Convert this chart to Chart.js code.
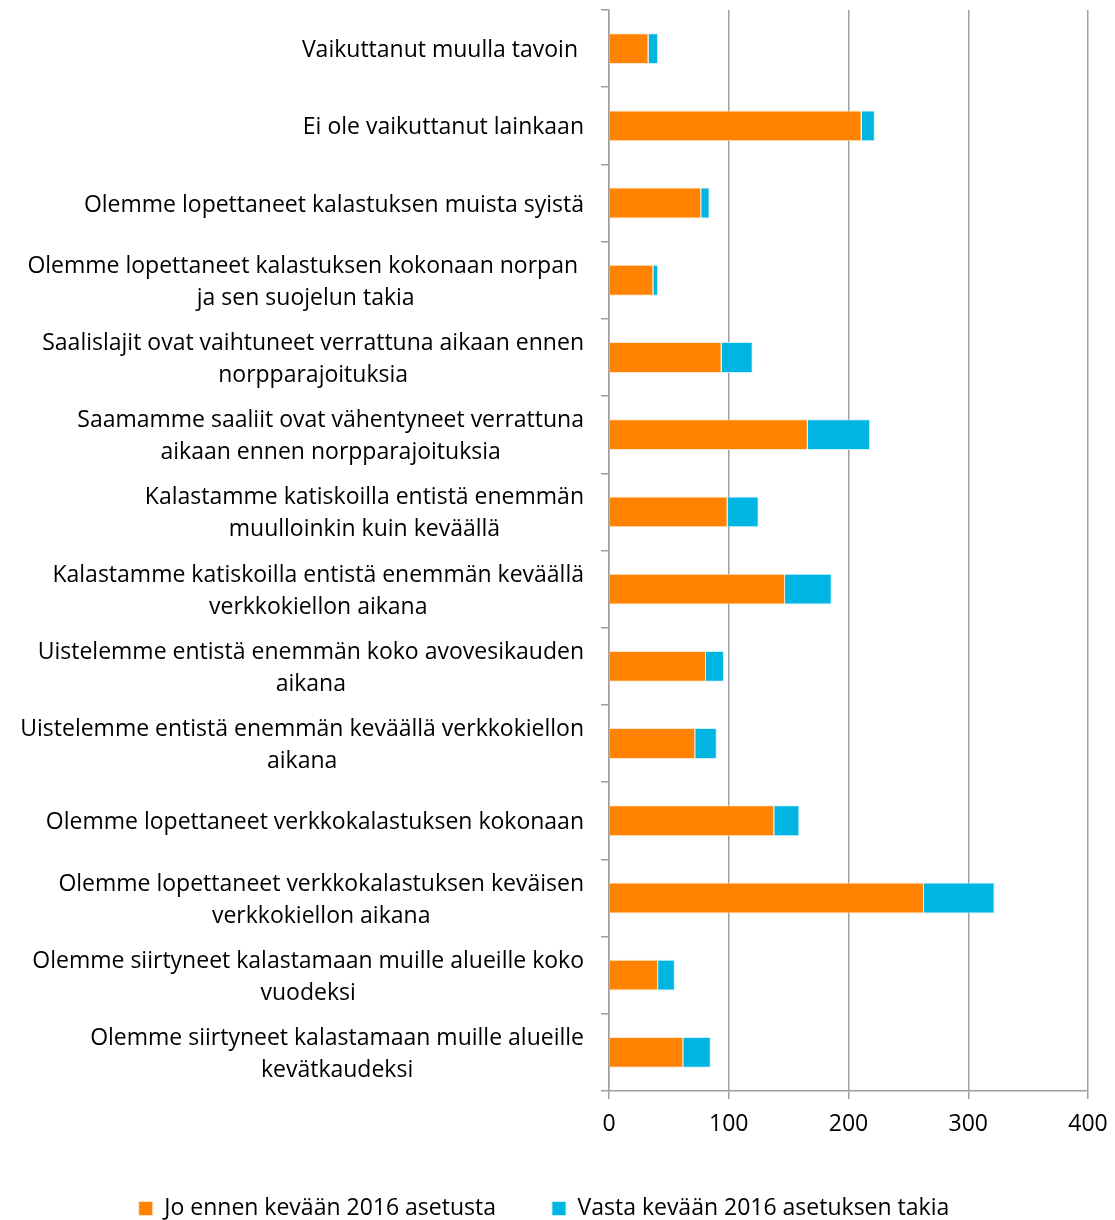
<!DOCTYPE html>
<html>
<head>
<meta charset="utf-8">
<script src="https://cdn.jsdelivr.net/npm/chart.js@4/dist/chart.umd.min.js"></script>
<style>
  html, body { margin: 0; padding: 0; background: #fff; }
  #wrap { width: 1115px; height: 1220px; position: relative; }
</style>
</head>
<body>
<div id="wrap"><canvas id="c"></canvas></div>
<script>
const categories = [
  ["Vaikuttanut muulla tavoin "],
  ["Ei ole vaikuttanut lainkaan"],
  ["Olemme lopettaneet kalastuksen muista syistä"],
  ["Olemme lopettaneet kalastuksen kokonaan norpan ", "ja sen suojelun takia"],
  ["Saalislajit ovat vaihtuneet verrattuna aikaan ennen", "norpparajoituksia"],
  ["Saamamme saaliit ovat vähentyneet verrattuna", "aikaan ennen norpparajoituksia"],
  ["Kalastamme katiskoilla entistä enemmän", "muulloinkin kuin keväällä"],
  ["Kalastamme katiskoilla entistä enemmän keväällä", "verkkokiellon aikana"],
  ["Uistelemme entistä enemmän koko avovesikauden", "aikana"],
  ["Uistelemme entistä enemmän keväällä verkkokiellon", "aikana"],
  ["Olemme lopettaneet verkkokalastuksen kokonaan"],
  ["Olemme lopettaneet verkkokalastuksen keväisen", "verkkokiellon aikana"],
  ["Olemme siirtyneet kalastamaan muille alueille koko", "vuodeksi"],
  ["Olemme siirtyneet kalastamaan muille alueille", "kevätkaudeksi"]
];
const seriesNames = ["Jo ennen kevään 2016 asetusta", "Vasta kevään 2016 asetuksen takia"];
const joEnnen = [33, 211, 77, 37, 94, 166, 99, 147, 81, 72, 138, 263, 41, 62];
const vasta   = [8, 11, 7, 4, 26, 52, 26, 39, 15, 18, 21, 59, 14, 23];
const xMin = 0, xMax = 400, xStep = 100;

const FONT = "'Open Sans', Lato, sans-serif";
const FS = 23;
const GRID = '#a0a0a0';

const yLabelPlugin = {
  id: 'yLabels',
  afterDraw(chart) {
    const ys = chart.scales.y;
    const ctx = chart.ctx;
    ctx.save();
    ctx.font = FS + "px " + FONT;
    ctx.fillStyle = '#000';
    ctx.textBaseline = 'middle';
    ctx.textAlign = 'center';
    const rightEdge = ys.right - 8 - 17;
    const lh = 32;
    categories.forEach((lines, i) => {
      const yc = ys.getPixelForTick(i) + 2;
      const w = Math.max(...lines.map(l => ctx.measureText(l).width));
      const cx = rightEdge - w / 2;
      const y0 = yc - (lines.length - 1) * lh / 2;
      lines.forEach((l, k) => ctx.fillText(l, cx, y0 + k * lh));
    });
    ctx.restore();
  }
};

new Chart(document.getElementById('c'), {
  type: 'bar',
  data: {
    labels: categories,
    datasets: [
      { label: seriesNames[0], data: joEnnen, backgroundColor: '#FF8300', borderColor: 'rgba(255,230,200,0.9)', borderWidth: 1 },
      { label: seriesNames[1], data: vasta, backgroundColor: '#00B5E2', borderColor: 'rgba(200,240,255,0.9)', borderWidth: 1 }
    ]
  },
  options: {
    indexAxis: 'y',
    responsive: true,
    maintainAspectRatio: false,
    animation: false,
    layout: { padding: { top: 10, right: 27, left: 0, bottom: -10 } },
    datasets: { bar: { barPercentage: 0.8, categoryPercentage: 0.5 } },
    scales: {
      x: {
        stacked: true,
        min: xMin, max: xMax,
        ticks: { stepSize: xStep, color: '#000', font: { size: FS, family: FONT }, padding: 12 },
        grid: { color: GRID, lineWidth: 1.5, tickLength: 8, tickColor: GRID },
        border: { color: GRID, width: 1.5 },
        afterFit(scale) { scale.height = 50; scale.paddingRight = 0; scale.paddingLeft = 0; }
      },
      y: {
        stacked: true,
        offset: true,
        ticks: { display: false },
        grid: { offset: true, drawOnChartArea: false, color: GRID, lineWidth: 1.5, tickLength: 8 },
        border: { color: GRID, width: 1.5 },
        afterFit(scale) { scale.width = 609; }
      }
    },
    plugins: {
      legend: {
        position: 'bottom',
        labels: { color: '#000', font: { size: FS, family: FONT }, boxWidth: 14, boxHeight: 14, padding: 56 }
      },
      tooltip: { enabled: false }
    }
  },
  plugins: [yLabelPlugin]
});
</script>
</body>
</html>
